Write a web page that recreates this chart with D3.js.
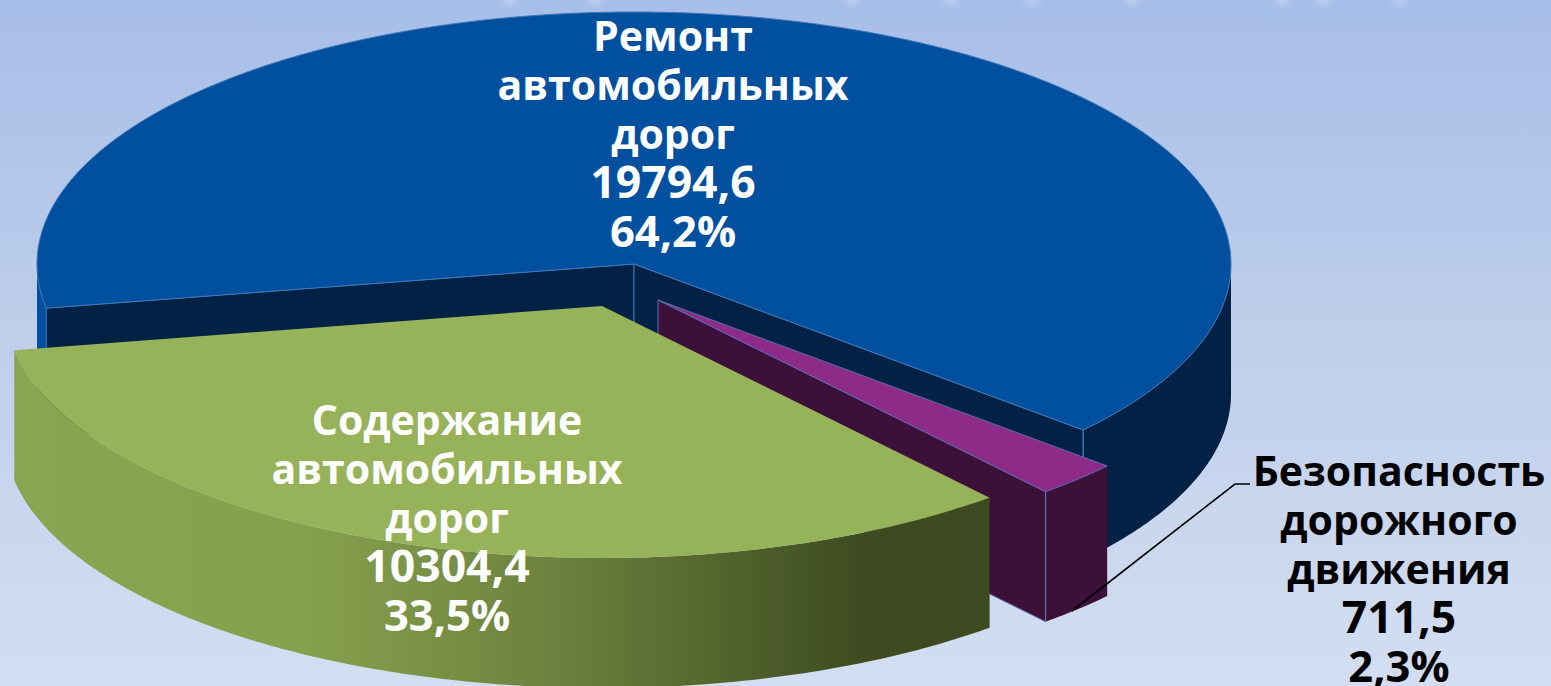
<!DOCTYPE html>
<html><head><meta charset="utf-8">
<script src="https://d3js.org/d3.v7.min.js"></script>
<style>html,body{margin:0;padding:0;overflow:hidden}svg{display:block}text{font-family:"Open Sans",sans-serif;font-weight:700}</style>
</head><body><svg id="c" width="1551" height="686"></svg>
<script>
const categories = ["Безопасность дорожного движения","Содержание автомобильных дорог","Ремонт автомобильных дорог"];
const values = [711.5,10304.4,19794.6];
const valueLabels = ["711,5","10304,4","19794,6"];
const percentLabels = ["2,3%","33,5%","64,2%"];
const nameLines = [["Безопасность","дорожного","движения"],["Содержание","автомобильных","дорог"],["Ремонт","автомобильных","дорог"]];

const W=1551,H=686,RX=597,RY=252,DEPTH=130,START=41.2;
const centers=[[658,300],[602,306],[634,264]];
const topFill=["#8e2a88","#97b35a","#00509f"];
const edge=["#5a6fb0","#97b35a","#3f78b8"];
const labelPos=[[1399,472],[447,421],[673,37]];
const labelFill=["#000","#fff","#fff"];
const lineStep=48.6;
const drawOrder=[2,0,1];

const svg=d3.select("#c");
const defs=svg.append("defs");
function grad(id,stops){
  const g=defs.append("linearGradient").attr("id",id).attr("gradientUnits","userSpaceOnUse");
  return g.call(s=>stops.forEach(([o,c])=>s.append("stop").attr("offset",o).attr("stop-color",c)));
}
grad("bg",[[0,"#a7bee8"],[0.5,"#bfcfeb"],[1,"#d3def2"]]).attr("x1",0).attr("y1",0).attr("x2",0).attr("y2",H);
grad("side2",[[0,"#00509f"],[0.008,"#00509f"],[0.5,"#012244"],[1,"#012244"]]).attr("x1",37).attr("y1",0).attr("x2",1232).attr("y2",0);
grad("side1",[[0,"#8aa552"],[0.3,"#86a14d"],[0.55,"#6d823e"],[0.87,"#3e4b20"],[1,"#3e4b20"]]).attr("x1",13).attr("y1",0).attr("x2",989).attr("y2",0);
defs.append("filter").attr("id","blur").append("feGaussianBlur").attr("stdDeviation",3);

svg.append("rect").attr("width",W).attr("height",H).attr("fill","url(#bg)");
const ghosts=[510,595,852,951,1032,1132,1282,1323,1400];
svg.append("g").attr("filter","url(#blur)").selectAll("ellipse").data(ghosts).join("ellipse")
  .attr("cx",d=>d).attr("cy",0).attr("rx",7).attr("ry",6).attr("fill","#fff").attr("opacity",.25);

const pie=d3.pie().sort(null).startAngle((START+90)*Math.PI/180).endAngle((START+450)*Math.PI/180);
const arcs=pie(values);
const sx=d3.scaleLinear().domain([-1,1]).range([-RX,RX]);
const sy=d3.scaleLinear().domain([-1,1]).range([-RY,RY]);
const P=(a,c,dz=0)=>[c[0]+sx(Math.sin(a)),c[1]+sy(-Math.cos(a))+dz];
const samples=(a0,a1)=>d3.range(0,1.0001,1/Math.max(2,Math.ceil(Math.abs(a1-a0)/0.01))).map(k=>a0+(a1-a0)*k);
const line=d3.line();
const sideMap=["#3d1039","url(#side1)","url(#side2)"];
const cutMap=["#3d1039","#3e4b20","#012244"];

drawOrder.forEach(i=>{
  const d=arcs[i],c=centers[i],g=svg.append("g");
  const poly=(pts,fill)=>g.append("path").attr("d",line(pts)+"Z").attr("fill",fill).attr("stroke",edge[i]).attr("stroke-width",i==1?0:1);
  const quad=(a,fill)=>poly([[c[0],c[1]],P(a,c),P(a,c,DEPTH),[c[0],c[1]+DEPTH]],fill);
  // outer rim: only the front half of the ellipse
  const all=samples(d.startAngle,d.endAngle);
  let run=[];
  const flush=()=>{ if(run.length>1){
    g.append("path").attr("d",line(run.map(a=>P(a,c)).concat(run.slice().reverse().map(a=>P(a,c,DEPTH))))+"Z").attr("fill",sideMap[i]);
  } run=[]; };
  all.forEach(a=>{ if(-Math.cos(a)>=0) run.push(a); else flush(); });
  flush();
  // cut faces turned toward the viewer
  if(Math.sin(d.startAngle)<0) quad(d.startAngle,cutMap[i]);
  if(Math.sin(d.endAngle)>0) quad(d.endAngle,cutMap[i]);
  // seam at the rim corner, top
  if(i!==1){ const a=d.endAngle; g.append("path").attr("d",line([P(a,c),P(a,c,DEPTH)])).attr("stroke",edge[i]).attr("fill","none"); }
  poly([[c[0],c[1]],...all.map(a=>P(a,c))],topFill[i]);
});

svg.append("path").attr("d",line([[1250,484],[1235,484],[1072,611]])).attr("fill","none").attr("stroke","#000").attr("stroke-width",1.6);

const labels=svg.append("g").attr("text-anchor","middle");
categories.forEach((cat,i)=>{
  const rows=[...nameLines[i].map(t=>[t,41]),[valueLabels[i],44.5],[percentLabels[i],43.5]];
  labels.selectAll(null).data(rows).join("text")
    .attr("x",labelPos[i][0]).attr("y",(r,k)=>labelPos[i][1]+k*lineStep)
    .attr("dy","0.35em").attr("font-size",r=>r[1]).attr("fill",labelFill[i]).text(r=>r[0]);
});
</script></body></html>
